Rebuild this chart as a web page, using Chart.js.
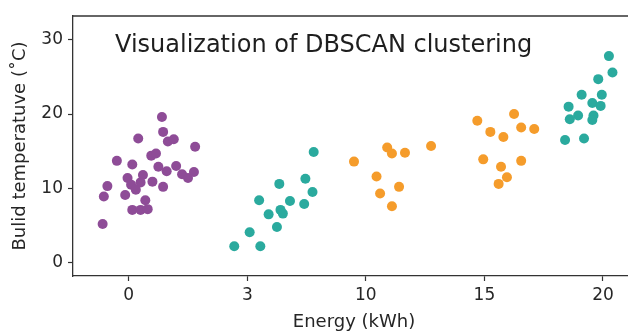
<!DOCTYPE html>
<html>
<head>
<meta charset="utf-8">
<script src="https://cdn.jsdelivr.net/npm/chart.js@4/dist/chart.umd.min.js"></script>
<style>
  html, body { margin: 0; padding: 0; background: #fff; overflow: hidden; }
  #wrap { width: 628px; height: 331px; overflow: hidden; position: relative; }
  canvas { display: block; }
</style>
</head>
<body>
<div id="wrap"><canvas id="c" width="640" height="331"></canvas></div>
<script>
// Category tick labels for the energy axis (evenly spaced positions 0..4)
const energyLabels = ['0', '3', '10', '15', '20'];
const tempTicks = [0, 10, 20, 30];

// Cluster 1 (purple) – positions along category axis, temperatures
const purpleX = [0.28, 0.29, 0.08, 0.33, 0.38, 0.56, 0.19, 0.23, -0.10, 0.03, 0.25, 0.32, 0.40, 0.45, 0.50, 0.55, -0.01, 0.12, 0.02, 0.10, 0.20, 0.29, 0.06, -0.03, -0.18, -0.21, 0.14, 0.03, 0.10, 0.16, -0.22];
const purpleY = [19.6, 17.6, 16.7, 16.3, 16.6, 15.6, 14.4, 14.7, 13.7, 13.2, 12.9, 12.3, 13.0, 11.9, 11.4, 12.2, 11.4, 11.8, 10.5, 10.8, 10.9, 10.2, 9.8, 9.1, 10.3, 8.9, 8.4, 7.1, 7.1, 7.2, 5.2];

// Cluster 2 (teal) – near energy 3 and near energy 20
const tealX = [1.56, 1.49, 1.27, 1.55, 1.10, 1.36, 1.48, 1.18, 1.28, 1.30, 1.25, 1.02, 0.89, 1.11,
               4.05, 4.08, 3.96, 3.82, 3.99, 3.91, 3.98, 3.71, 3.79, 3.72, 3.92, 3.91, 3.68, 3.84];
const tealY = [14.9, 11.3, 10.6, 9.5, 8.4, 8.3, 7.9, 6.5, 7.1, 6.6, 4.8, 4.1, 2.2, 2.2,
               27.8, 25.6, 24.7, 22.6, 22.6, 21.5, 21.1, 21.0, 19.8, 19.3, 19.8, 19.2, 16.5, 16.7];

// Cluster 3 (orange) – near energy 10 and near energy 15
const orangeX = [2.18, 2.22, 2.33, 2.55, 1.90, 2.09, 2.28, 2.12, 2.22,
                 2.94, 3.25, 3.05, 3.16, 3.31, 3.42, 2.99, 3.14, 3.31, 3.19, 3.12];
const orangeY = [15.5, 14.7, 14.8, 15.7, 13.6, 11.6, 10.2, 9.3, 7.6,
                 19.1, 20.0, 17.6, 16.9, 18.2, 18.0, 13.9, 12.9, 13.7, 11.5, 10.6];

const titleText = 'Visualization of DBSCAN clustering';
const xTitle = 'Energy (kWh)';
const yTitle = 'Bulid temperatuve (\u02DAC)';

const pts = (xs, ys) => xs.map((x, i) => ({ x: x, y: ys[i] }));

const FONT = "'DejaVu Sans', sans-serif";
const INK = '#262626';

const framePlugin = {
  id: 'frame',
  afterDraw(chart) {
    const { ctx, chartArea: a } = chart;
    ctx.save();
    ctx.strokeStyle = '#333';
    ctx.lineWidth = 1.3;
    ctx.beginPath();
    ctx.moveTo(a.left, a.top);
    ctx.lineTo(a.right, a.top);
    ctx.stroke();
    ctx.fillStyle = '#1e1e1e';
    ctx.font = "24px " + FONT;
    ctx.textBaseline = 'alphabetic';
    ctx.textAlign = 'left';
    ctx.fillText(titleText, a.left + 42, a.top + 36);
    ctx.restore();
  }
};

new Chart(document.getElementById('c'), {
  type: 'scatter',
  data: {
    datasets: [
      { label: 'c0', data: pts(purpleX, purpleY), backgroundColor: '#8e4c97', borderWidth: 0, pointRadius: 5, pointHoverRadius: 5 },
      { label: 'c1', data: pts(tealX, tealY), backgroundColor: '#2aaa9e', borderWidth: 0, pointRadius: 5, pointHoverRadius: 5 },
      { label: 'c2', data: pts(orangeX, orangeY), backgroundColor: '#f59c2b', borderWidth: 0, pointRadius: 5, pointHoverRadius: 5 }
    ]
  },
  options: {
    responsive: false,
    animation: false,
    events: [],
    layout: { padding: { top: 16, right: 3, left: 0, bottom: 0 } },
    plugins: { legend: { display: false }, tooltip: { enabled: false }, title: { display: false } },
    scales: {
      x: {
        type: 'linear',
        min: -0.47,
        max: 4.27,
        afterBuildTicks: s => { s.ticks = energyLabels.map((_, i) => ({ value: i })); },
        afterFit: s => { s.height = 55; },
        ticks: { callback: (v) => energyLabels[v] ?? '', color: INK, font: { family: FONT, size: 17 }, padding: 4, maxRotation: 0, autoSkip: false },
        grid: { drawOnChartArea: false, tickLength: 5, tickColor: '#333', tickWidth: 1.2 },
        border: { color: '#333', width: 1.3 },
        title: { display: true, text: xTitle, color: INK, font: { family: FONT, size: 18, lineHeight: 1 }, padding: { top: 0, bottom: 0 } }
      },
      y: {
        type: 'linear',
        min: -1.8,
        max: 33.2,
        afterBuildTicks: s => { s.ticks = tempTicks.map(v => ({ value: v })); },
        afterFit: s => { s.width = 73; },
        ticks: { color: INK, font: { family: FONT, size: 17 }, padding: 5 },
        grid: { drawOnChartArea: false, tickLength: 5, tickColor: '#333', tickWidth: 1.2 },
        border: { color: '#333', width: 1.3 },
        title: { display: true, text: yTitle, color: INK, font: { family: FONT, size: 18 }, padding: { top: 10, bottom: 0 } }
      }
    }
  },
  plugins: [framePlugin]
});
</script>
</body>
</html>
